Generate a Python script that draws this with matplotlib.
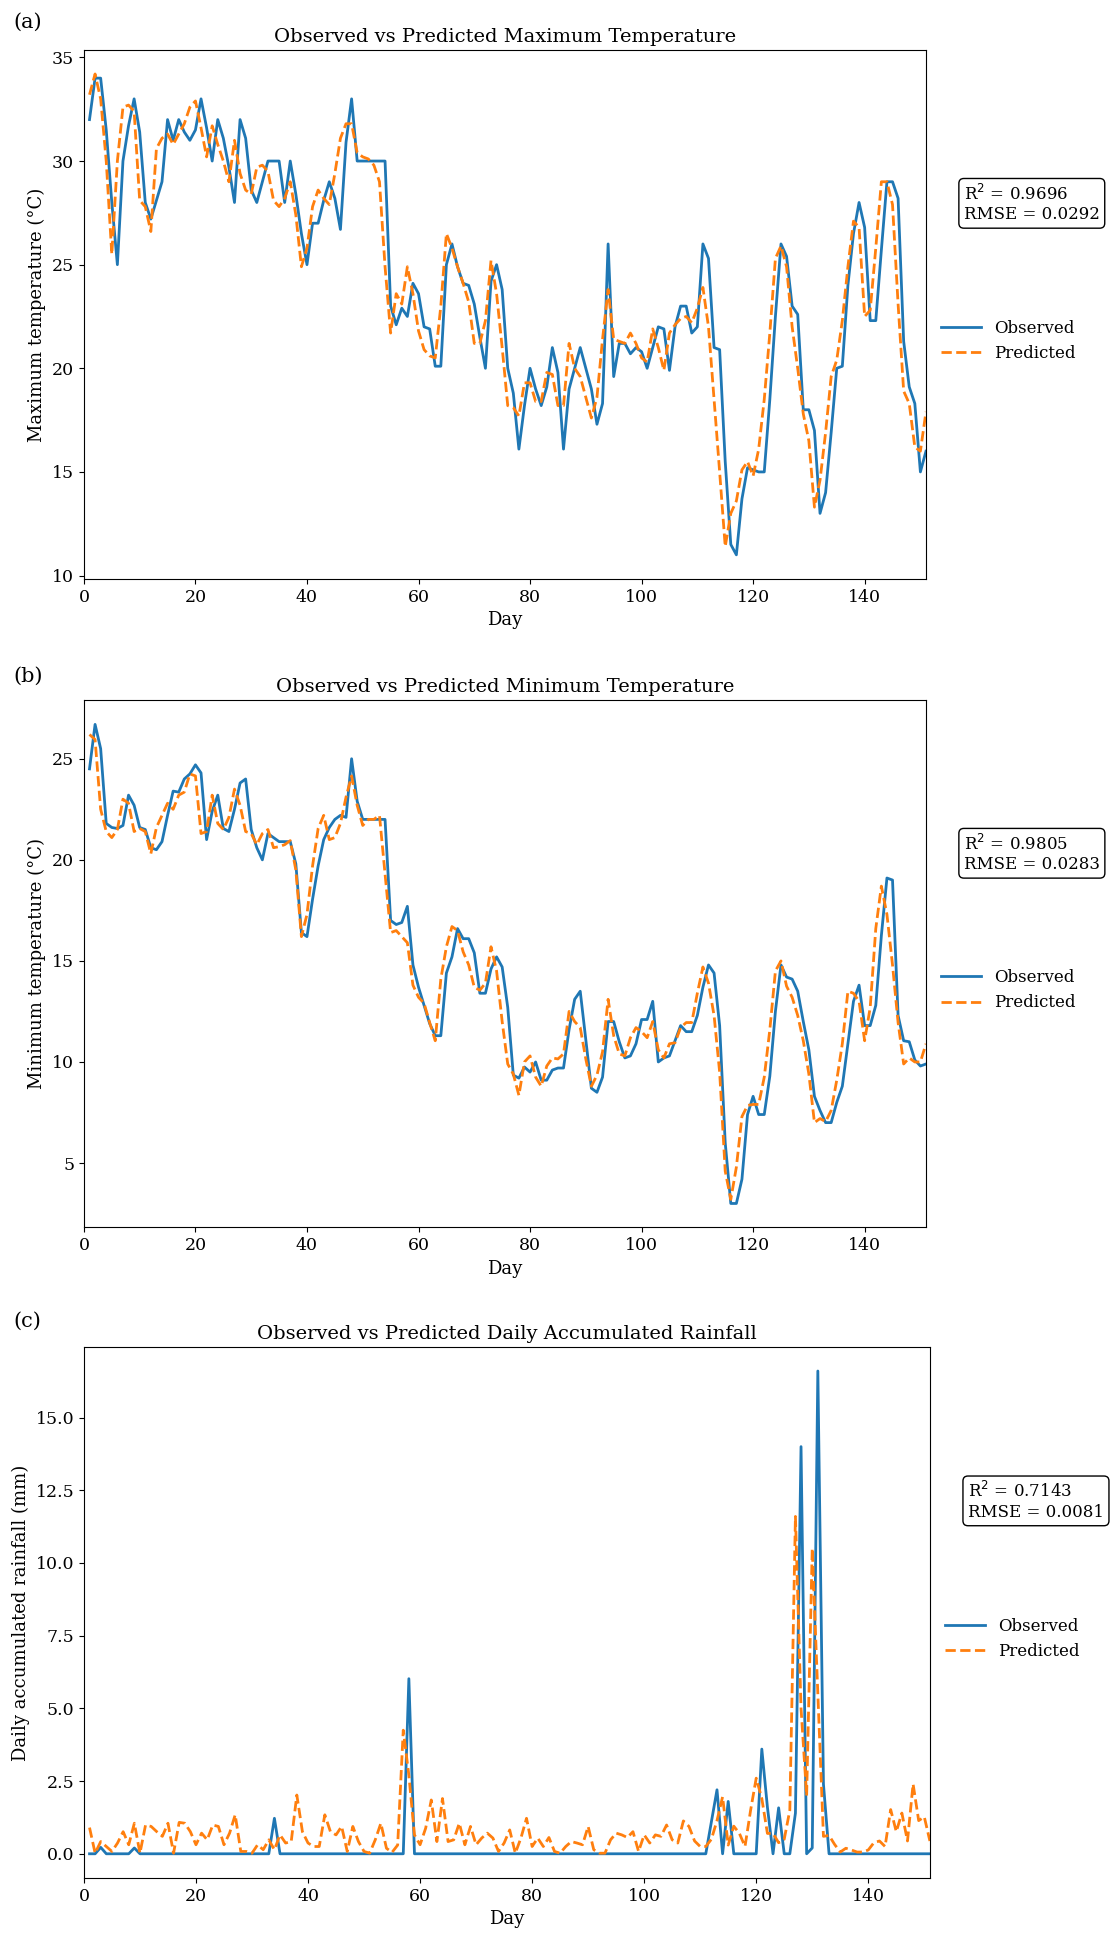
import numpy as np
import matplotlib
matplotlib.use("Agg")
import matplotlib.pyplot as plt

plt.rcParams['font.family'] = ['DejaVu Serif']
plt.rcParams['font.size'] = 12
plt.rcParams['xtick.labelsize'] = 12.5
plt.rcParams['ytick.labelsize'] = 12.5
plt.rcParams['axes.labelsize'] = 13

days = list(range(1, 152))

tmax_obs = [32.0, 34.0, 34.0, 31.5, 28.0, 25.0, 30.0, 31.7, 33.0, 31.4,
            28.0, 27.2, 28.1, 29.0, 32.0, 31.0, 32.0, 31.4, 31.0, 31.5,
            33.0, 31.6, 30.0, 32.0, 31.1, 29.7, 28.0, 32.0, 31.1, 28.6,
            28.0, 29.0, 30.0, 30.0, 30.0, 28.0, 30.0, 28.4, 26.5, 25.0,
            27.0, 27.0, 28.1, 29.0, 28.2, 26.7, 30.9, 33.0, 30.0, 30.0,
            30.0, 30.0, 30.0, 30.0, 23.0, 22.1, 22.9, 22.5, 24.1, 23.6,
            22.0, 21.9, 20.1, 20.1, 25.0, 26.0, 24.9, 24.1, 24.0, 23.1,
            21.5, 20.0, 24.2, 25.0, 23.8, 20.0, 18.8, 16.1, 18.2, 20.0,
            19.0, 18.2, 19.1, 21.0, 19.8, 16.1, 19.0, 20.0, 21.0, 20.0,
            19.0, 17.3, 18.3, 26.0, 19.6, 21.2, 21.2, 20.7, 21.0, 20.8,
            20.0, 21.0, 22.0, 21.9, 19.9, 22.0, 23.0, 23.0, 21.7, 22.0,
            26.0, 25.3, 21.0, 20.9, 15.5, 11.5, 11.0, 13.7, 15.2, 15.1,
            15.0, 15.0, 18.5, 22.5, 26.0, 25.4, 23.0, 22.6, 18.0, 18.0,
            17.0, 13.0, 14.0, 16.9, 20.0, 20.1, 24.0, 26.5, 28.0, 26.8,
            22.3, 22.3, 25.7, 29.0, 29.0, 28.2, 21.3, 19.1, 18.3, 15.0,
            16.0]

tmax_pred = [33.2, 34.2, 33.0, 30.0, 25.5, 30.0, 32.6, 32.7, 32.4, 28.1,
             27.8, 26.6, 30.6, 31.1, 31.3, 30.8, 31.3, 31.8, 32.6, 32.9,
             31.6, 30.2, 31.7, 30.8, 30.0, 29.0, 31.0, 29.4, 28.6, 28.4,
             29.7, 29.8, 29.5, 28.1, 27.8, 28.2, 29.0, 27.4, 24.9, 25.8,
             27.8, 28.6, 28.2, 27.9, 29.4, 31.1, 31.8, 31.8, 30.4, 30.2,
             30.1, 29.8, 29.0, 24.9, 21.7, 23.6, 23.1, 24.9, 23.6, 21.8,
             20.9, 20.6, 20.5, 23.0, 26.5, 25.8, 24.9, 24.1, 23.2, 21.2,
             21.2, 22.3, 25.2, 23.6, 21.0, 18.2, 18.1, 17.7, 19.3, 19.3,
             18.4, 18.4, 19.8, 19.7, 18.2, 18.2, 21.2, 20.0, 19.6, 18.6,
             17.6, 18.6, 21.4, 23.8, 21.4, 21.3, 21.2, 21.7, 21.2, 20.5,
             20.3, 21.9, 21.0, 19.9, 21.7, 22.1, 22.4, 22.5, 22.2, 22.9,
             23.9, 22.0, 18.5, 15.0, 11.4, 13.0, 13.6, 15.1, 15.5, 14.8,
             16.1, 18.5, 21.7, 25.3, 25.9, 24.9, 22.0, 20.0, 17.8, 16.5,
             13.3, 14.6, 16.9, 19.6, 20.4, 22.3, 24.9, 27.1, 26.8, 22.5,
             22.8, 25.8, 29.0, 29.0, 27.9, 23.1, 18.9, 18.3, 16.2, 16.0,
             17.9]

tmin_obs = [24.5, 26.7, 25.5, 21.8, 21.6, 21.55, 21.7, 23.2, 22.7, 21.6,
            21.5, 20.6, 20.5, 20.9, 22.2, 23.4, 23.35, 24.0, 24.25, 24.7,
            24.3, 21.0, 22.4, 23.2, 21.55, 21.4, 22.5, 23.8, 24.0, 21.5,
            20.6, 20.0, 21.3, 21.1, 20.9, 20.9, 20.9, 19.8, 16.4, 16.2,
            18.05, 19.7, 21.0, 21.6, 22.0, 22.2, 22.1, 25.0, 22.9, 22.0,
            22.0, 22.0, 22.0, 22.0, 17.0, 16.8, 16.9, 17.7, 14.8, 13.7,
            12.8, 11.9, 11.3, 11.3, 14.4, 15.2, 16.6, 16.1, 16.1, 15.4,
            13.4, 13.4, 14.6, 15.2, 14.7, 12.7, 9.35, 9.2, 9.75, 9.5,
            10.0, 9.1, 9.1, 9.6, 9.7, 9.7, 11.6, 13.1, 13.5, 11.1,
            8.7, 8.5, 9.25, 12.0, 12.0, 11.0, 10.2, 10.3, 10.9, 12.1,
            12.1, 13.0, 10.0, 10.2, 10.3, 11.05, 11.8, 11.5, 11.5, 12.3,
            13.7, 14.8, 14.4, 11.8, 6.0, 3.0, 3.0, 4.2, 7.4, 8.3,
            7.4, 7.4, 9.3, 12.5, 14.8, 14.2, 14.1, 13.5, 12.0, 10.6,
            8.3, 7.6, 7.0, 7.0, 8.0, 8.8, 10.9, 13.0, 13.8, 11.8,
            11.8, 12.8, 16.25, 19.1, 19.0, 12.3, 11.05, 11.0, 10.1, 9.8,
            9.9]

tmin_pred = [26.2, 25.95, 22.5, 21.4, 21.1, 21.5, 23.0, 22.8, 21.4, 21.55,
             21.4, 20.3, 21.6, 22.2, 22.8, 22.5, 23.2, 23.35, 24.25, 24.15,
             21.3, 21.4, 23.2, 21.8, 21.5, 22.1, 23.5, 22.7, 21.4, 21.3,
             20.75, 21.3, 21.5, 20.6, 20.65, 20.75, 20.95, 19.5, 16.2, 17.3,
             19.7, 21.55, 22.2, 21.0, 21.1, 21.8, 23.1, 24.15, 22.7, 21.7,
             22.0, 22.0, 22.2, 19.3, 16.4, 16.5, 16.2, 15.9, 13.8, 13.2,
             12.9, 11.95, 11.05, 14.1, 15.7, 16.7, 16.5, 15.45, 14.8, 13.7,
             13.55, 13.9, 15.7, 14.5, 12.0, 9.9, 9.4, 8.35, 10.0, 10.3,
             9.25, 8.8, 9.8, 10.2, 10.15, 10.4, 12.5, 12.0, 11.7, 10.15,
             8.8, 9.35, 10.5, 13.1, 11.3, 10.4, 10.3, 11.2, 11.7, 11.5,
             11.2, 12.0, 10.6, 10.2, 10.9, 10.95, 11.7, 11.95, 11.95, 13.4,
             14.7, 13.9, 12.3, 9.5, 4.6, 3.2, 4.8, 7.3, 7.85, 7.9,
             7.9, 9.25, 11.6, 14.5, 15.0, 13.75, 13.2, 12.3, 11.05, 9.4,
             7.0, 7.2, 7.05, 7.6, 9.1, 10.9, 13.5, 13.4, 13.0, 11.05,
             12.7, 16.6, 18.7, 17.3, 14.8, 11.95, 9.9, 10.2, 10.0, 10.0,
             10.9]

rain_obs = [0.0, 0.0, 0.22, 0.0, 0.0, 0.0, 0.0, 0.0, 0.2, 0.0,
            0.0, 0.0, 0.0, 0.0, 0.0, 0.0, 0.0, 0.0, 0.0, 0.0,
            0.0, 0.0, 0.0, 0.0, 0.0, 0.0, 0.0, 0.0, 0.0, 0.0,
            0.0, 0.0, 0.0, 1.22, 0.0, 0.0, 0.0, 0.0, 0.0, 0.0,
            0.0, 0.0, 0.0, 0.0, 0.0, 0.0, 0.0, 0.0, 0.0, 0.0,
            0.0, 0.0, 0.0, 0.0, 0.0, 0.0, 0.0, 6.02, 0.0, 0.0,
            0.0, 0.0, 0.0, 0.0, 0.0, 0.0, 0.0, 0.0, 0.0, 0.0,
            0.0, 0.0, 0.0, 0.0, 0.0, 0.0, 0.0, 0.0, 0.0, 0.0,
            0.0, 0.0, 0.0, 0.0, 0.0, 0.0, 0.0, 0.0, 0.0, 0.0,
            0.0, 0.0, 0.0, 0.0, 0.0, 0.0, 0.0, 0.0, 0.0, 0.0,
            0.0, 0.0, 0.0, 0.0, 0.0, 0.0, 0.0, 0.0, 0.0, 0.0,
            0.0, 1.1, 2.2, 0.0, 1.8, 0.0, 0.0, 0.0, 0.0, 0.0,
            3.6, 1.6, 0.0, 1.58, 0.0, 0.0, 1.4, 14.0, 0.0, 0.2,
            16.6, 2.4, 0.0, 0.0, 0.0, 0.0, 0.0, 0.0, 0.0, 0.0,
            0.0, 0.0, 0.0, 0.0, 0.0, 0.0, 0.0, 0.0, 0.0, 0.0,
            0.0]

rain_pred = [0.9, 0.02, 0.42, 0.25, 0.08, 0.37, 0.76, 0.31, 1.05, 0.02,
             0.99, 0.94, 0.76, 0.6, 1.05, 0.02, 1.08, 1.05, 0.76, 0.31,
             0.71, 0.48, 0.99, 0.94, 0.31, 0.71, 1.34, 0.08, 0.08, 0.02,
             0.31, 0.14, 0.48, 0.14, 0.65, 0.37, 0.42, 2.02, 0.76, 0.37,
             0.25, 0.25, 1.34, 0.76, 0.65, 0.94, 0.08, 0.94, 0.42, 0.08,
             0.02, 0.48, 1.05, 0.19, 0.05, 0.3, 4.25, 2.7, 0.65, 0.31,
             0.88, 1.85, 0.42, 1.9, 0.42, 0.48, 1.05, 0.31, 0.94, 0.31,
             0.54, 0.71, 0.54, 0.08, 0.37, 0.82, 0.02, 0.54, 1.22, 0.25,
             0.54, 0.25, 0.56, 0.08, 0.02, 0.25, 0.42, 0.37, 0.31, 0.94,
             0.14, 0.02, 0.02, 0.48, 0.71, 0.65, 0.56, 0.76, 0.08, 0.65,
             0.37, 0.65, 0.6, 0.99, 0.48, 0.37, 1.13, 0.94, 0.44, 0.25,
             0.25, 0.5, 1.14, 1.96, 0.3, 0.95, 0.7, 0.25, 1.5, 2.6,
             1.9, 0.7, 0.7, 0.38, 0.5, 1.5, 11.6, 5.0, 2.0, 10.5,
             5.5, 0.6, 0.63, 0.32, 0.06, 0.19, 0.13, 0.06, 0.06, 0.13,
             0.38, 0.44, 0.25, 1.52, 0.76, 1.4, 0.44, 2.4, 1.14, 1.27,
             0.44]

panels = [
    ("(a)", "Observed vs Predicted Maximum Temperature", "Maximum temperature (°C)",
     tmax_obs, tmax_pred, "R$^2$ = 0.9696\nRMSE = 0.0292"),
    ("(b)", "Observed vs Predicted Minimum Temperature", "Minimum temperature (°C)",
     tmin_obs, tmin_pred, "R$^2$ = 0.9805\nRMSE = 0.0283"),
    ("(c)", "Observed vs Predicted Daily Accumulated Rainfall", "Daily accumulated rainfall (mm)",
     rain_obs, rain_pred, "R$^2$ = 0.7143\nRMSE = 0.0081"),
]

fig = plt.figure(figsize=(11.19, 19.36), dpi=100)
rects = [
    [0.075, 0.701, 0.7525, 0.2732],
    [0.075, 0.366, 0.7525, 0.2722],
    [0.075, 0.030, 0.7560, 0.2743],
]
label_y = [0.9886, 0.6508, 0.3176]

for (lab, title, ylabel, obs, pred, stats), rect, ly in zip(panels, rects, label_y):
    ax = fig.add_axes(rect)
    ax.plot(days, obs, color='#1f77b4', lw=2.0, label='Observed')
    ax.plot(days, pred, color='#ff7f0e', lw=2.0, ls='--', label='Predicted')
    ax.set_xlim(0, 151)
    ax.set_title(title, fontsize=14)
    ax.set_xlabel('Day')
    ax.set_ylabel(ylabel)
    ax.legend(loc='center left', bbox_to_anchor=(1.0, 0.45), frameon=False,
              fontsize=12, handlelength=2.4)
    ax.text(1.045, 0.71, stats, transform=ax.transAxes, ha='left', va='center',
            fontsize=12,
            bbox=dict(boxstyle='round,pad=0.3', fc='white', ec='black'))
    fig.text(0.012, ly, lab, fontsize=15, ha='left', va='center')

fig.savefig('out.png', dpi=100)
